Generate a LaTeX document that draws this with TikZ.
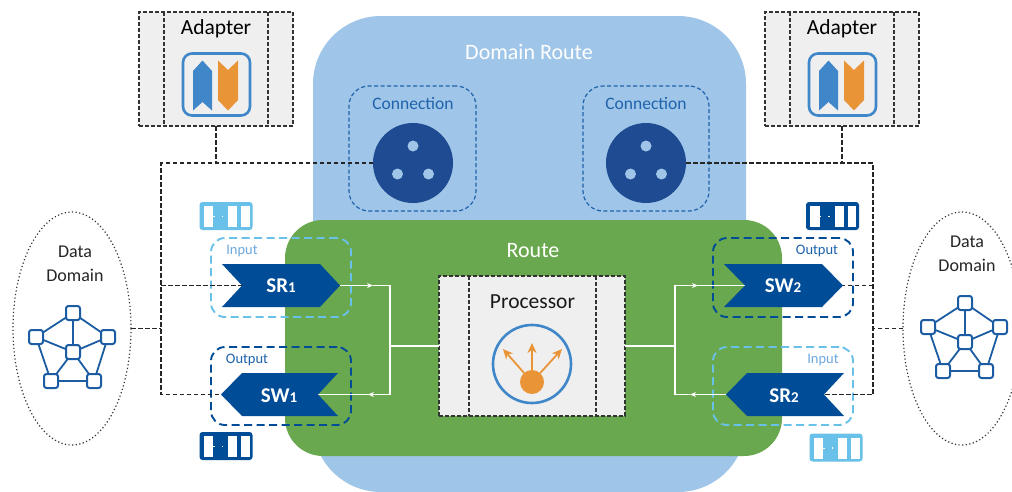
\documentclass[tikz,border=0pt]{standalone}
\usepackage{fontspec}
\setmainfont{Carlito}
\usetikzlibrary{shapes.geometric,arrows.meta}
\definecolor{routeblue}{HTML}{9FC5E8}
\definecolor{routegreen}{HTML}{6AA84F}
\definecolor{navy}{HTML}{004C97}
\definecolor{socket}{HTML}{1F4B92}
\definecolor{sky}{HTML}{69C0E8}
\definecolor{panel}{HTML}{EFEFEF}
\definecolor{iconblue}{HTML}{3F87C9}
\definecolor{iconorange}{HTML}{E99437}
\definecolor{labelblue}{HTML}{1F63AC}
\definecolor{inputblue}{HTML}{6FA8DC}
\definecolor{netblue}{HTML}{1B5CA3}
\definecolor{dashgray}{HTML}{333333}
\tikzset{
  every node/.style={inner sep=0pt,outer sep=0pt},
  sized/.style 2 args={minimum width=#1,minimum height=#2},
  panelbox/.style={draw=dashgray,fill=panel,dash pattern=on 4pt off 2pt,line width=1.2pt},
  panelline/.style={draw=dashgray,dash pattern=on 4pt off 2pt,line width=1.2pt},
  groupdash/.style={draw=#1,dash pattern=on 8pt off 4.5pt,line width=1.9pt,rounded corners=14pt},
  conndash/.style={draw=labelblue,dash pattern=on 4pt off 2.5pt,line width=1.2pt,rounded corners=20pt},
  linkdash/.style={draw=black!85,dash pattern=on 4.5pt off 2.5pt,line width=1.2pt},
  dotline/.style={draw=dashgray,dash pattern=on 1.2pt off 2.4pt,line width=1.2pt},
  wire/.style={draw=white,line width=1.2pt},
  wirehead/.style={draw=white,line width=1.2pt,-{Stealth[length=6pt,width=5pt]}},
  port/.style={fill=navy},
  porttext/.style={text=white,font=\fontsize{21}{21}\selectfont\bfseries},
  netnode/.style={draw=netblue,fill=white,line width=2pt,rounded corners=2.5pt,minimum size=14pt},
  netedge/.style={draw=netblue,line width=1.8pt},
  procarrow/.style={draw=iconorange,line width=1.8pt,-{Stealth[length=10pt,width=9pt]}},
}
\newcommand{\qsmall}[4]{%
  \node[fill=#4,rounded corners=3pt,sized={53pt}{28pt},anchor=north west] (#1) at (#2,#3) {};
  \fill[white] (#2+4,#3+4) rectangle (#2+13.5,#3+25);
  \fill[white] (#2+28.5,#3+4) rectangle (#2+37.5,#3+25);
  \fill[white] (#2+41.5,#3+4) rectangle (#2+50,#3+25);
  \fill[white] (#2+13,#3+14) rectangle (#2+15,#3+15);
  \fill[white] (#2+22,#3+13.5) rectangle (#2+23.5,#3+15);
}
\newcommand{\netw}[3]{%
  \begin{scope}[shift={(#2,#3)}]
    \coordinate (#1t0) at (73,313);
    \node[netnode] (#1t) at (73,313) {};
    \node[netnode] (#1l) at (36,337) {};
    \node[netnode] (#1r) at (108,337) {};
    \node[netnode] (#1c) at (73,352) {};
    \node[netnode] (#1a) at (51,381) {};
    \node[netnode] (#1b) at (94,381) {};
    \draw[netedge] (#1t)--(#1l) (#1t)--(#1r) (#1t)--(#1c) (#1l)--(#1c) (#1r)--(#1c)
      (#1c)--(#1a) (#1c)--(#1b) (#1l)--(#1a) (#1r)--(#1b) (#1a)--(#1b);
  \end{scope}
}
\newcommand{\adapterbox}[3]{%
  \begin{scope}[shift={(#2,#3)}]
    \node[panelbox,sized={154pt}{114pt},anchor=north west] (#1) at (0,0) {};
    \draw[panelline] (25,0) -- (25,114);
    \draw[panelline] (129,0) -- (129,114);
    \node[font=\fontsize{21.5}{21.5}\selectfont,text=black] (#1t) at (77,16.5) {Adapter};
    \node[draw=iconblue,line width=2.6pt,rounded corners=9pt,sized={67pt}{62pt},anchor=north west] (#1i) at (44,41.5) {};
    \fill[iconblue] (54,59) -- (63.5,48.5) -- (73,59) -- (73,98.5) -- (63.5,90) -- (54,98.5) -- cycle;
    \fill[iconorange] (79,48.5) -- (89,58) -- (99,48.5) -- (99,88) -- (89,98.5) -- (79,88) -- cycle;
  \end{scope}
}
\newcommand{\socketn}[3]{%
  \node[fill=socket,circle,minimum size=80pt] (#1) at (#2,#3) {};
  \fill[routeblue] (#2,#3-17) circle (5.5);
  \fill[routeblue] (#2-15.5,#3+11) circle (5.5);
  \fill[routeblue] (#2+15.5,#3+11) circle (5.5);
}
\begin{document}
\begin{tikzpicture}[x=1pt,y=-1pt]
\useasboundingbox (0,0) rectangle (1012,491);
\clip (0,0) rectangle (1012,491);
\fill[white] (0,0) rectangle (1012,491);
% main areas
\node[fill=routeblue,rounded corners=68pt,sized={433pt}{476pt},anchor=north west] (domain) at (313,16) {};
\node[text=white,font=\fontsize{22}{22}\selectfont] (domaint) at (529,52) {Domain Route};
\node[fill=routegreen,rounded corners=38pt,sized={497pt}{236pt},anchor=north west] (route) at (285,220) {};
\node[text=white,font=\fontsize{22}{22}\selectfont] (routet) at (533,251) {Route};
% connections
\node[conndash,sized={127pt}{125pt},anchor=north west] (conl) at (349,86) {};
\node[conndash,sized={126pt}{125pt},anchor=north west] (conr) at (583,86) {};
\node[text=labelblue,font=\fontsize{17.5}{17.5}\selectfont] (conlt) at (413,104) {Connection};
\node[text=labelblue,font=\fontsize{17.5}{17.5}\selectfont] (conrt) at (646,104) {Connection};
\socketn{sockl}{413}{163}
\socketn{sockr}{646}{163}
% data domains
\node[dotline,ellipse,sized={118pt}{233pt}] (ddl) at (72,328.5) {};
\node[dotline,ellipse,sized={118pt}{233pt}] (ddr) at (962,328.5) {};
\node[font=\fontsize{18}{18}\selectfont,text=black!85] (ddl1) at (75,252) {Data};
\node[font=\fontsize{18}{18}\selectfont,text=black!85] (ddl2) at (75,275) {Domain};
\node[font=\fontsize{18}{18}\selectfont,text=black!85] (ddr1) at (967,242) {Data};
\node[font=\fontsize{18}{18}\selectfont,text=black!85] (ddr2) at (967,265) {Domain};
\netw{nl}{0}{0}
\netw{nr}{892}{-10}
% adapters
\adapterbox{adl}{139}{12}
\adapterbox{adr}{765}{12}
% queue icons
\qsmall{ql1}{199.5}{202}{sky}
\qsmall{ql2}{199.5}{432}{navy}
\qsmall{qr1}{806}{202}{navy}
\qsmall{qr2}{809.5}{433.5}{sky}
% port groups
\node[groupdash=sky,sized={140pt}{79pt},anchor=north west] (gil) at (211,238) {};
\node[groupdash=navy,sized={140pt}{78pt},anchor=north west] (gol) at (211,347) {};
\node[groupdash=navy,sized={140pt}{79pt},anchor=north west] (gor) at (713,238) {};
\node[groupdash=sky,sized={140pt}{78pt},anchor=north west] (gir) at (713,347) {};
\node[text=inputblue,font=\fontsize{14.5}{14.5}\selectfont] (gilt) at (242,251) {Input};
\node[text=labelblue,font=\fontsize{14.5}{14.5}\selectfont] (golt) at (247,360) {Output};
\node[text=labelblue,font=\fontsize{14.5}{14.5}\selectfont] (gort) at (817,251) {Output};
\node[text=inputblue,font=\fontsize{14.5}{14.5}\selectfont] (girt) at (823,360) {Input};
% named connector ends
\coordinate (sr1in) at (242,285.5);
\coordinate (sr1out) at (340,285.5);
\coordinate (sw1in) at (318,394.5);
\coordinate (sw1out) at (221,394.5);
\coordinate (sw2in) at (745,285.5);
\coordinate (sw2out) at (843,285.5);
\coordinate (sr2in) at (824,394.5);
\coordinate (sr2out) at (726,394.5);
\coordinate (hl1) at (373,285.5);
\coordinate (cl1) at (390,285.5);
\coordinate (cl2) at (390,394.5);
\coordinate (hl2) at (368,394.5);
\coordinate (jl) at (390,346);
\coordinate (cr1) at (675,285.5);
\coordinate (hr1) at (698,285.5);
\coordinate (cr2) at (675,394.5);
\coordinate (hr2) at (690,394.5);
\coordinate (jr) at (675,346);
\coordinate (dl1) at (161,163);
\coordinate (dl2) at (216,163);
\coordinate (dl3) at (161,285.5);
\coordinate (dl4) at (161,328.5);
\coordinate (dl5) at (161,394.5);
\coordinate (dr1) at (873,163);
\coordinate (dr2) at (842,163);
\coordinate (dr3) at (873,285.5);
\coordinate (dr4) at (873,328.5);
\coordinate (dr5) at (873,394.5);
% processor
\node[panelbox,sized={186pt}{140pt},anchor=north west] (proc) at (439,276) {};
\draw[panelline] (469,276) -- (469,416);
\draw[panelline] (596,276) -- (596,416);
\node[font=\fontsize{21.5}{21.5}\selectfont,text=black!90] (proct) at (532.5,302) {Processor};
\node[draw=iconblue,line width=2.6pt,circle,minimum size=78pt] (procring) at (532,364) {};
\node[fill=iconorange,circle,minimum size=24pt] (procdot) at (532,382) {};
\coordinate (pa1) at (503,349);
\coordinate (pa2) at (532,343);
\coordinate (pa3) at (562,349);
\draw[procarrow] (procdot) -- (pa1);
\draw[procarrow] (procdot) -- (pa2);
\draw[procarrow] (procdot) -- (pa3);
% white wires
\draw[wirehead] (sr1out) -- (hl1);
\draw[wire] (hl1) -- (cl1) -- (cl2) -- (hl2);
\draw[wirehead] (cl2) -- (hl2);
\draw[wire] (hl2) -- (sw1in);
\draw[wire] (jl) -- (jl -| proc.west);
\draw[wire] (jr -| proc.east) -- (jr);
\draw[wire] (cr2) -- (cr1) -- (hr1);
\draw[wirehead] (cr1) -- (hr1);
\draw[wire] (hr1) -- (sw2in);
\draw[wirehead] (sr2out) -- (hr2);
\draw[wire] (hr2) -- (cr2);
% ports
\path[port] (222,264) -- (320,264) -- (sr1out) -- (320,307) -- (222,307) -- (sr1in) -- cycle;
\path[port] (sw1out) -- (242,373) -- (338,373) -- (sw1in) -- (338,416) -- (242,416) -- cycle;
\path[port] (724,264) -- (822,264) -- (sw2out) -- (822,307) -- (724,307) -- (sw2in) -- cycle;
\path[port] (sr2out) -- (747,373) -- (844,373) -- (sr2in) -- (844,416) -- (747,416) -- cycle;
\node[porttext] (sr1t) at (281,286) {SR{\fontsize{15}{15}\selectfont 1}};
\node[porttext] (sw1t) at (279,396) {SW{\fontsize{15}{15}\selectfont 1}};
\node[porttext] (sw2t) at (783,286) {SW{\fontsize{15}{15}\selectfont 2}};
\node[porttext] (sr2t) at (784,396) {SR{\fontsize{15}{15}\selectfont 2}};
% dashed links
\draw[linkdash] (adl.south) -- (dl2);
\draw[linkdash] (sockl.west) -- (dl1) -- (dl5) -- (sw1out);
\draw[linkdash] (dl3) -- (sr1in);
\draw[linkdash] (ddl.east) -- (dl4);
\draw[linkdash] (adr.south) -- (dr2);
\draw[linkdash] (sockr.east) -- (dr1) -- (dr5) -- (sr2in);
\draw[linkdash] (dr3) -- (sw2out);
\draw[linkdash] (ddr.west) -- (dr4);
\end{tikzpicture}
\end{document}
